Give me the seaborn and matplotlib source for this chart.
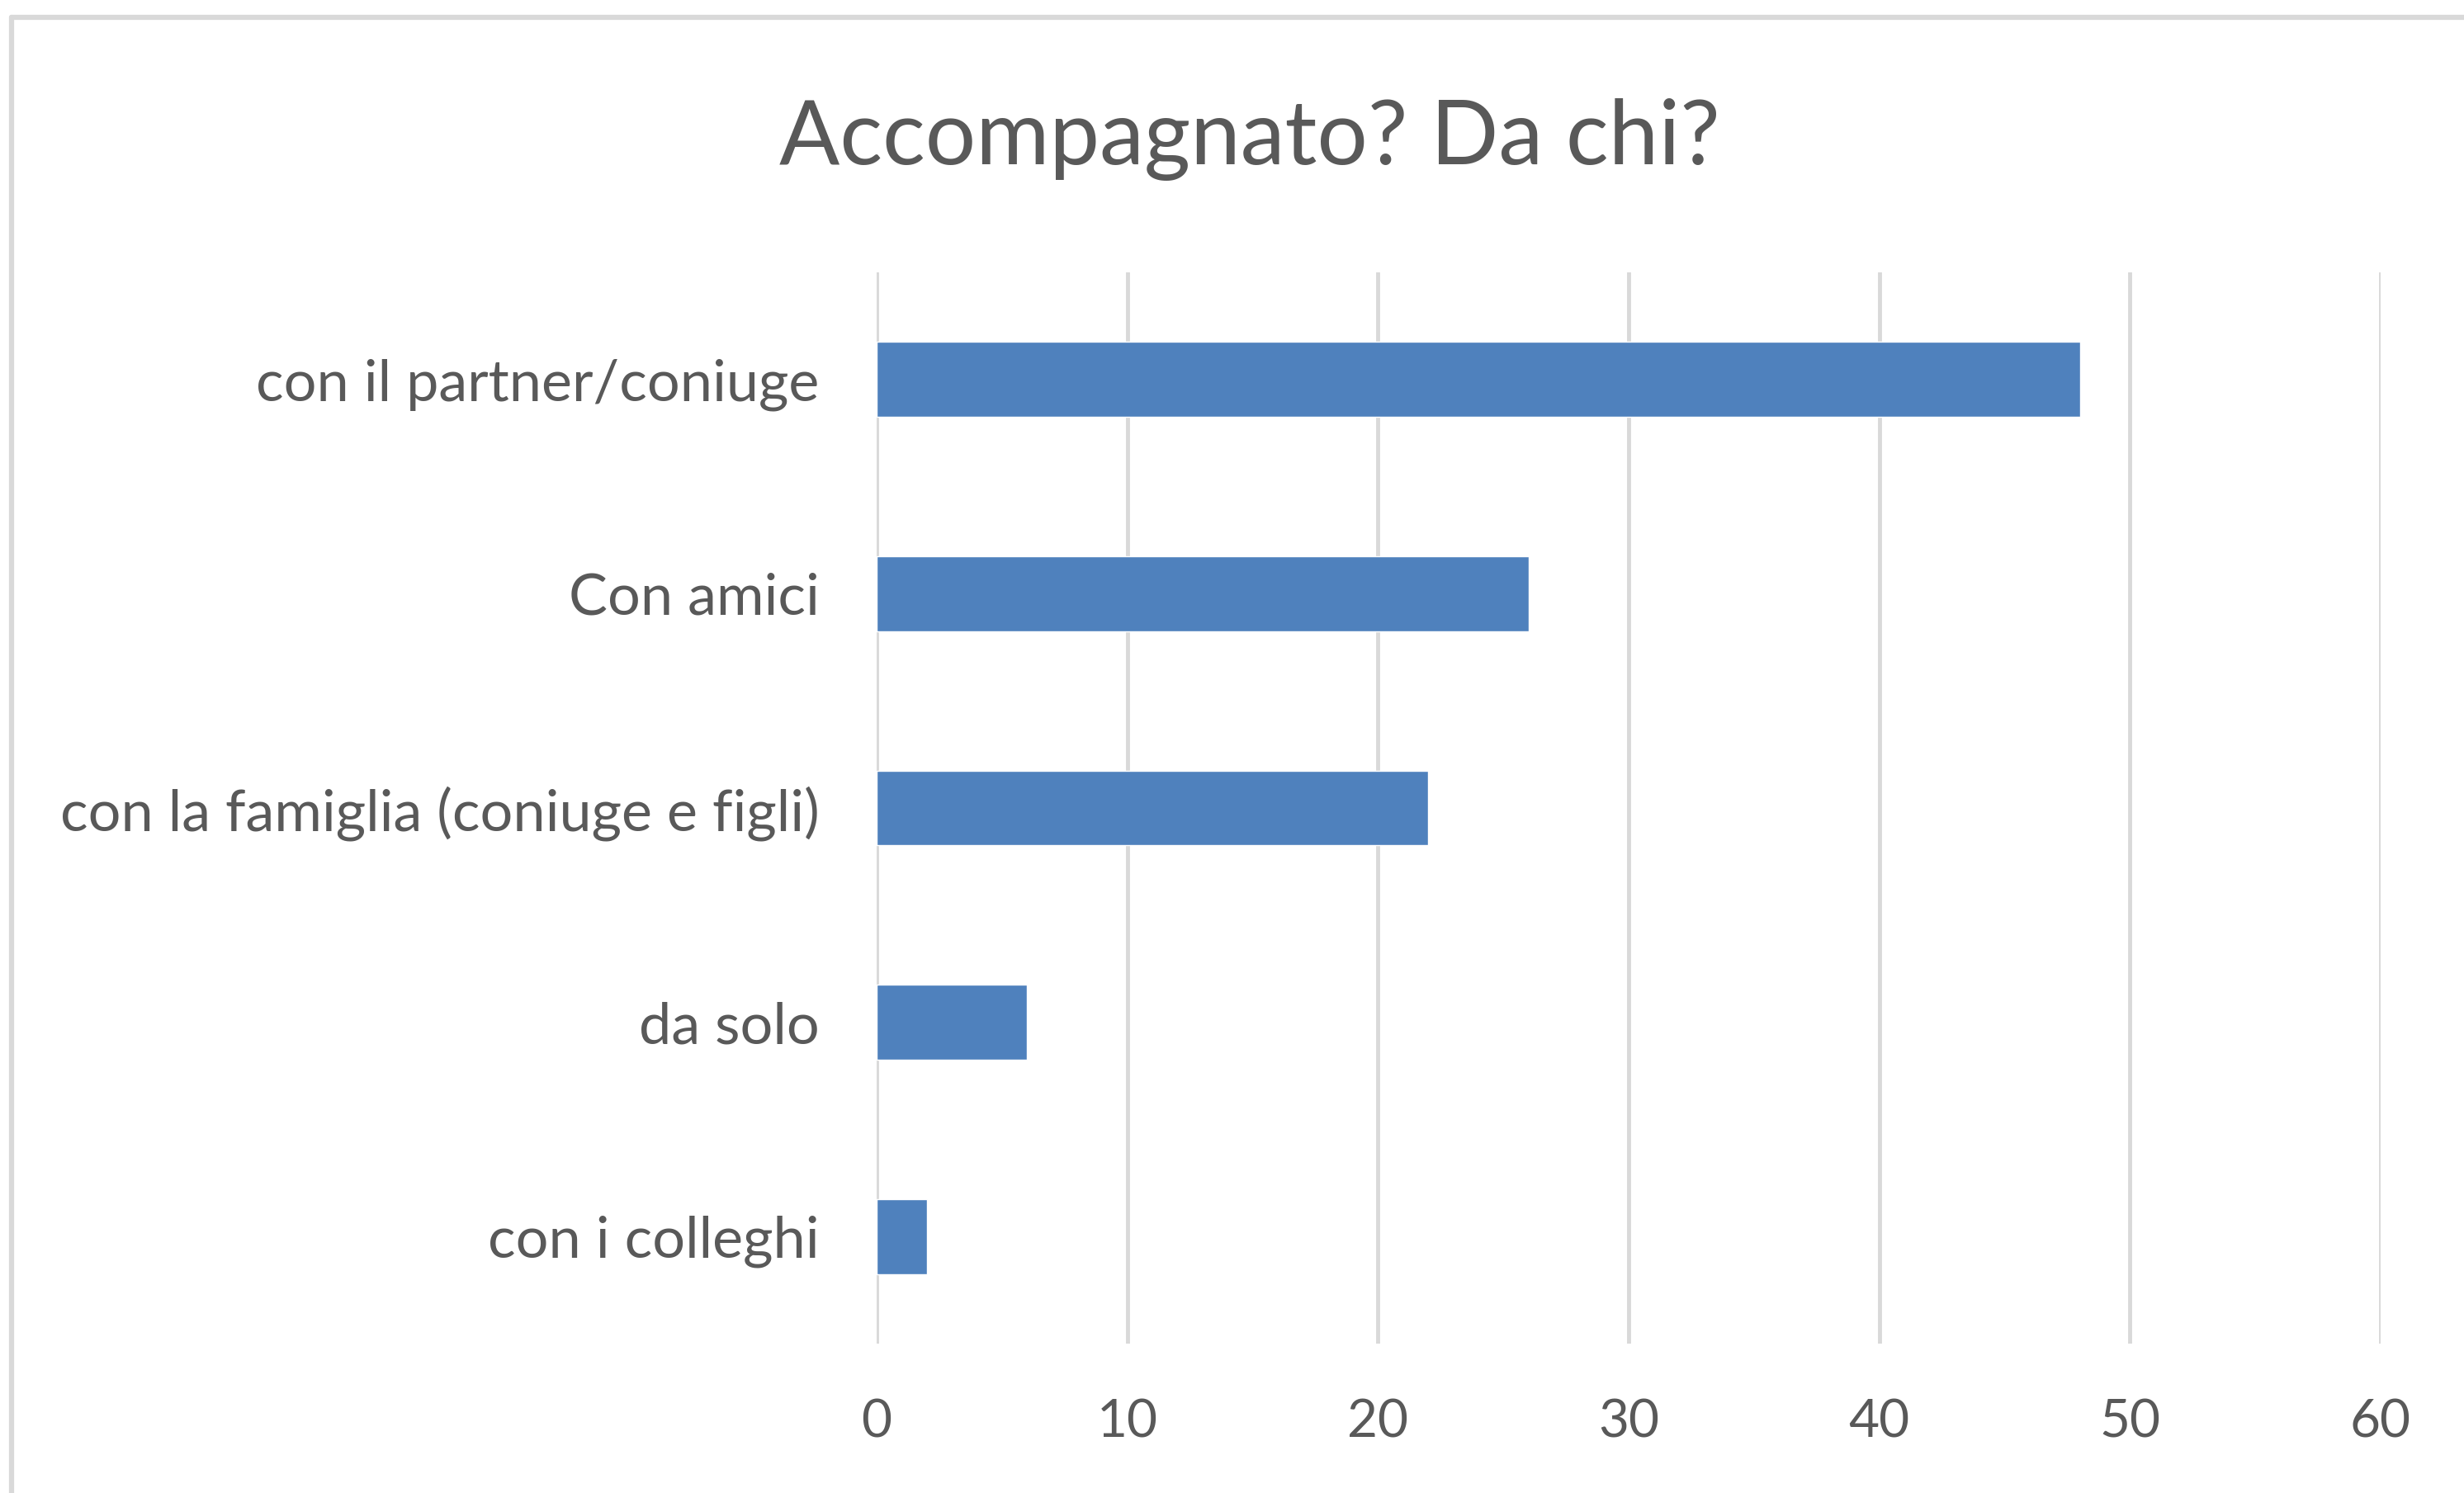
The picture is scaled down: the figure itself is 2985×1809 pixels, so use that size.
import matplotlib
matplotlib.use("Agg")
import matplotlib.pyplot as plt
import seaborn as sns
import pandas as pd
from matplotlib.lines import Line2D

categories = ["con il partner/coniuge", "Con amici", "con la famiglia (coniuge e figli)", "da solo", "con i colleghi"]
values = [48, 26, 22, 6, 2]
x_ticks = [0, 10, 20, 30, 40, 50, 60]
title = "Accompagnato? Da chi?"

df = pd.DataFrame({"cat": categories, "val": values})

sns.set_theme(style="white")
plt.rcParams["font.family"] = ["Lato", "DejaVu Sans"]

W, H = 2985, 1809
fig = plt.figure(figsize=(W / 100, H / 100), dpi=100)
ax = fig.add_axes([1062 / W, 1 - 1628 / H, (2884 - 1062) / W, (1628 - 330) / H])

sns.barplot(data=df, x="val", y="cat", orient="h", color="#4F81BD", width=0.35,
            saturation=1, ax=ax)

ax.set_xlim(0, 60)
ax.set_ylim(4.5, -0.5)
ax.set_xticks(x_ticks)
ax.set_xticklabels([str(t) for t in x_ticks])
ax.set_xlabel("")
ax.set_ylabel("")
ax.xaxis.grid(True, color="#d9d9d9", linewidth=3.5)
ax.set_axisbelow(True)
for s in ax.spines.values():
    s.set_visible(False)
ax.tick_params(axis="both", length=0, labelcolor="#595959")
ax.tick_params(axis="y", pad=50, labelsize=50.5)
ax.tick_params(axis="x", pad=48, labelsize=46)

fig.text(1514 / W, 1 - 199 / H, title, ha="center", va="baseline", fontsize=78, color="#595959")

# chart border (top and left visible)
bx = 14 / W
by = 1 - 21 / H
fig.add_artist(Line2D([bx, 1.0], [by, by], color="#d9d9d9", linewidth=4.5, transform=fig.transFigure))
fig.add_artist(Line2D([bx, bx], [0, by], color="#d9d9d9", linewidth=4.5, transform=fig.transFigure))

fig.savefig("out.png", dpi=100, facecolor="white")
